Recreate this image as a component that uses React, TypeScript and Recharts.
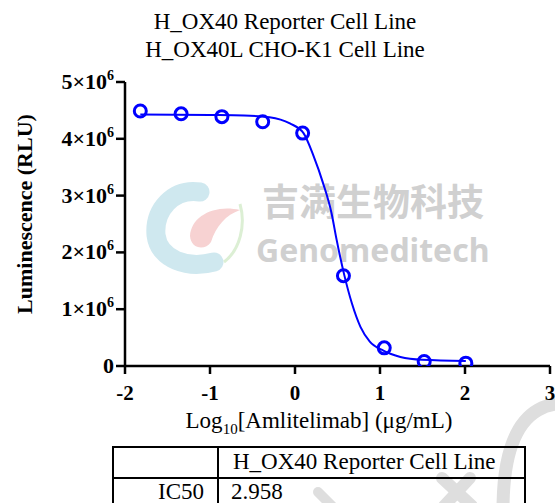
import React from 'react';
import { ComposedChart, Line, Scatter, XAxis, YAxis } from 'recharts';

const titleLines = ['H_OX40 Reporter Cell Line', 'H_OX40L CHO-K1 Cell Line'];

// log10 dose (µg/mL) and luminescence (RLU)
const doseLog = [-1.82, -1.34, -0.86, -0.38, 0.09, 0.57, 1.05, 1.52, 2.01];
const lumValues = [4490000, 4440000, 4390000, 4300000, 4100000, 1590000, 320000, 80000, 50000];

// fitted curve
const fitX = [-1.82, -1.0, -0.6, -0.3, -0.06, 0.1, 0.22, 0.33, 0.43, 0.49, 0.58, 0.67, 0.77, 0.88, 1.04, 1.24, 1.5, 2.01];
const fitY = [4430000, 4420000, 4410000, 4380000, 4270000, 4100000, 3690000, 3220000, 2690000, 2220000, 1600000, 1100000, 690000, 430000, 270000, 160000, 110000, 90000];

const xTicks = [-2, -1, 0, 1, 2, 3];
const yTicks = [0, 1000000, 2000000, 3000000, 4000000, 5000000];

const tableHeader = ['', 'H_OX40 Reporter Cell Line'];
const tableRows = [['IC50', '2.958']];

const BLUE = '#0000ff';
const SERIF = '"Liberation Serif", "Times New Roman", serif';

const points = doseLog.map((x, i) => ({ x, y: lumValues[i] }));
const curve = fitX.map((x, i) => ({ x, y: fitY[i] }));

const YTick = ({ x, y, payload }: any) => {
    const v = payload.value;
    if (v === 0) {
        return (
            <text x={x} y={y + 7} textAnchor="end" fontFamily={SERIF} fontWeight="bold" fontSize={22} fill="#000">
                0
            </text>
        );
    }
    return (
        <text x={x} y={y + 7} textAnchor="end" fontFamily={SERIF} fontWeight="bold" fontSize={22} fill="#000">
            {`${v / 1000000}×10`}
            <tspan dy={-9} fontSize={14}>6</tspan>
        </text>
    );
};

const XTick = ({ x, y, payload }: any) => (
    <text x={x} y={y + 24} textAnchor="middle" fontFamily={SERIF} fontWeight="bold" fontSize={21} fill="#000">
        {payload.value}
    </text>
);

const Watermark = () => (
    <svg width={555} height={503} style={{ position: 'absolute', left: 0, top: 0 }}>
        <path d="M 200 192 C 173 188, 154 210, 156 235 C 159 260, 188 269, 214 262" fill="none" stroke="#cfe8ef" strokeWidth={19} strokeLinecap="round" />
        <path d="M 240 210 C 215 204, 191 216, 190 236 C 191 249, 205 251, 211 242 C 216 226, 226 215, 240 210 Z" fill="#f7d2d2" />
        <path d="M 240 204 C 246 225, 240 250, 224 262" fill="none" stroke="#dcefd4" strokeWidth={3} />
        <text x={262} y={216} fontFamily='"Noto Sans CJK SC"' fontWeight="bold" fontSize={37} fill="#d0d0d0">
            吉满生物科技
        </text>
        <text x={256} y={262} fontFamily='"Noto Sans", sans-serif' fontWeight="bold" fontSize={32} fill="#d0d0d0">
            Genomeditech
        </text>
        <path d="M 503 510 Q 503 430 538 410 Q 548 404 560 404" fill="none" stroke="#dedede" strokeWidth={13} strokeLinecap="round" />
        <path d="M 442 478 L 472 506" stroke="#dedede" strokeWidth={12} strokeLinecap="round" />
        <path d="M 470 478 L 444 506" stroke="#dedede" strokeWidth={12} strokeLinecap="round" />
        <path d="M 318 492 L 332 506" stroke="#dedede" strokeWidth={10} strokeLinecap="round" />
    </svg>
);

const Overlay = () => (
    <svg width={555} height={503} style={{ position: 'absolute', left: 0, top: 0, pointerEvents: 'none' }}>
        {titleLines.map((t, i) => (
            <text key={t} x={285} y={29 + i * 28} textAnchor="middle" fontFamily={SERIF} fontSize={23} fill="#000">
                {t}
            </text>
        ))}
        <text transform="translate(32, 214) rotate(-90)" textAnchor="middle" fontFamily={SERIF} fontWeight="bold" fontSize={22} fill="#000">
            Luminescence (RLU)
        </text>
        <text x={319} y={428} textAnchor="middle" fontFamily={SERIF} fontSize={23} fill="#000">
            Log<tspan dy={6} fontSize={15}>10</tspan>
            <tspan dy={-6}>[Amlitelimab] (μg/mL)</tspan>
        </text>
        <g stroke="#000" strokeWidth={2} fill="none">
            <path d="M 113 512 L 113 447 L 525 447 L 525 512" />
            <line x1={113} y1={478} x2={525} y2={478} />
            <line x1={218} y1={447} x2={218} y2={512} />
        </g>
        <text x={233} y={469} fontFamily={SERIF} fontSize={23} fill="#000">{tableHeader[1]}</text>
        {tableRows.map((r, i) => (
            <g key={r[0]}>
                <text x={204} y={499 + i * 31} textAnchor="end" fontFamily={SERIF} fontSize={23} fill="#000">{r[0]}</text>
                <text x={231} y={499 + i * 31} fontFamily={SERIF} fontSize={23} fill="#000">{r[1]}</text>
            </g>
        ))}
    </svg>
);

const App = () => (
    <div style={{ position: 'absolute', left: 0, top: 0, width: 555, height: 503, overflow: 'hidden', background: '#fff' }}>
        <Watermark />
        <div style={{ position: 'absolute', left: 0, top: 0 }}>
            <ComposedChart width={555} height={503} margin={{ top: 82, right: 5, bottom: 107, left: 0 }}>
                <XAxis
                    type="number"
                    dataKey="x"
                    domain={[-2, 3]}
                    ticks={xTicks}
                    interval={0}
                    height={30}
                    tick={<XTick />}
                    tickSize={8}
                    tickMargin={2}
                    axisLine={{ stroke: '#000', strokeWidth: 2.5 }}
                    tickLine={{ stroke: '#000', strokeWidth: 2.5 }}
                    allowDataOverflow
                />
                <YAxis
                    type="number"
                    dataKey="y"
                    domain={[0, 5000000]}
                    ticks={yTicks}
                    interval={0}
                    width={125}
                    tick={<YTick />}
                    tickSize={9}
                    tickMargin={2}
                    axisLine={{ stroke: '#000', strokeWidth: 2.5 }}
                    tickLine={{ stroke: '#000', strokeWidth: 2.5 }}
                    allowDataOverflow
                />
                <Line
                    data={curve}
                    dataKey="y"
                    type="monotone"
                    stroke={BLUE}
                    strokeWidth={2}
                    dot={false}
                    activeDot={false}
                    isAnimationActive={false}
                />
                <Scatter
                    data={points}
                    dataKey="y"
                    isAnimationActive={false}
                    shape={(props: any) => (
                        <circle cx={props.cx} cy={props.cy} r={6} fill="none" stroke={BLUE} strokeWidth={3} />
                    )}
                />
            </ComposedChart>
        </div>
        <Overlay />
    </div>
);

export default App;
